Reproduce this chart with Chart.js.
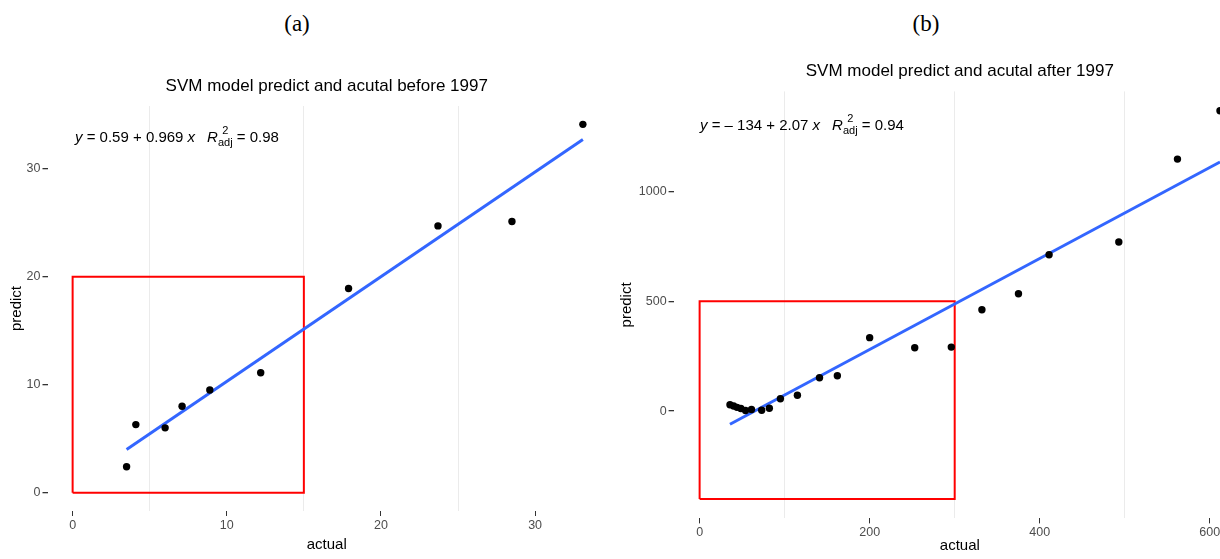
<!DOCTYPE html>
<html><head><meta charset="utf-8">
<script src="https://cdn.jsdelivr.net/npm/chart.js@4.4.0/dist/chart.umd.min.js"></script>
<style>
html,body{margin:0;padding:0;background:#fff;overflow:hidden;}
#wrap{position:relative;width:1220px;height:559px;overflow:hidden;background:#fff;}
.lab{position:absolute;width:80px;text-align:center;font-family:'Liberation Serif','Times New Roman',serif;font-size:23px;line-height:23px;color:#000;}
canvas{position:absolute;top:0;}
</style></head><body>
<div id="wrap">
<div class="lab" style="left:257px;top:12px">(a)</div>
<div class="lab" style="left:886px;top:12px">(b)</div>
<canvas id="c1" width="610" height="559" style="left:0"></canvas>
<canvas id="c2" width="640" height="559" style="left:610px"></canvas>
</div>
<script>
// ---- Panel (a): before 1997 ----
const leftActual  = [3.5, 4.1, 6.0, 7.1, 8.9, 12.2, 17.9, 23.7, 28.5, 33.1];
const leftPredict = [2.4, 6.3, 6.0, 8.0, 9.5, 11.1, 18.9, 24.7, 25.1, 34.1];
const leftFitX = [3.5, 33.1];
const leftFitY = [4.0, 32.7];
const leftBoxX = [0, 15, 15, 0, 0];
const leftBoxY = [0, 0, 20, 20, 0];
const leftXTicks = [0, 10, 20, 30];
const leftXGrid  = [5, 15, 25];
const leftYTicks = [0, 10, 20, 30];
const leftTitle = 'SVM model predict and acutal before 1997';
const leftEq = {y: ' = 0.59 + 0.969 ', r2: ' = 0.98'};

// ---- Panel (b): after 1997 ----
const rightActual  = [35.7, 40, 44, 48.5, 54, 61, 73, 82, 95, 115, 141, 162, 200, 253, 296, 332, 375, 411, 493, 562, 612];
const rightPredict = [29, 23, 17, 12, 3, 7, 4, 13, 56, 72, 152, 161, 334, 288, 291, 461, 534, 711, 769, 1146, 1366];
const rightFitX = [35.7, 612];
const rightFitY = [-60, 1133];
const rightBoxX = [0, 300, 300, 0, 0];
const rightBoxY = [-400, -400, 500, 500, -400];
const rightXTicks = [0, 200, 400, 600];
const rightXGrid  = [100, 300, 500];
const rightYTicks = [0, 500, 1000];
const rightTitle = 'SVM model predict and acutal after 1997';
const rightEq = {y: ' = \u2013 134 + 2.07 ', r2: ' = 0.94'};

const FONT = "'Liberation Sans', Arial, Helvetica, sans-serif";

function zip(xs, ys){ return xs.map((x,i)=>({x:x, y:ys[i]})); }

function drawEq(ctx, x, yMid, eq){
  const base = yMid + 5;
  ctx.save();
  ctx.fillStyle = '#000';
  ctx.textBaseline = 'alphabetic';
  ctx.textAlign = 'left';
  const main = '15px ' + FONT, ital = 'italic 15px ' + FONT, small = '11px ' + FONT;
  let cx = x;
  function put(t, f, dy){ ctx.font = f; ctx.fillText(t, cx, base + (dy||0)); return ctx.measureText(t).width; }
  cx += put('y', ital);
  cx += put(eq.y, main);
  cx += put('x', ital);
  cx += 12;
  cx += put('R', ital);
  ctx.font = small;
  const w2 = ctx.measureText('2').width, wa = ctx.measureText('adj').width;
  ctx.fillText('2', cx + (wa - w2)/2, base - 8);
  ctx.fillText('adj', cx, base + 4);
  cx += wa;
  put(eq.r2, main);
  ctx.restore();
}

const eqPlugin = {
  id: 'eqText',
  afterDraw(chart, args, opts){ drawEq(chart.ctx, opts.x, opts.y, opts.eq); }
};

function makePanel(id, p){
  const allX = p.xTicks.concat(p.xGrid).sort((a,b)=>a-b);
  return new Chart(document.getElementById(id), {
    type: 'scatter',
    data: {
      datasets: [
        {data: zip(p.actual, p.predict), pointRadius: 3.7, pointBackgroundColor: '#000', pointBorderWidth: 0, order: 0},
        {data: zip(p.fitX, p.fitY), showLine: true, pointRadius: 0, borderColor: '#3366FF', borderWidth: 3, order: 1},
        {data: zip(p.boxX, p.boxY), showLine: true, pointRadius: 0, borderColor: '#FF0000', borderWidth: 2, tension: 0, order: 2}
      ]
    },
    plugins: [eqPlugin],
    options: {
      responsive: false,
      animation: false,
      events: [],
      layout: {padding: {left: 0, right: p.padRight, top: 0, bottom: 0}},
      plugins: {
        legend: {display: false},
        tooltip: {enabled: false},
        title: {display: true, text: p.title, fullSize: false, color: '#000',
                font: {family: FONT, size: 17, weight: 'normal', lineHeight: 1.2},
                padding: {top: p.titleTop, bottom: p.titleBottom}},
        eqText: {x: p.eqX, y: p.eqY, eq: p.eq}
      },
      scales: {
        x: {
          type: 'linear', min: p.xMin, max: p.xMax,
          afterBuildTicks: s => { s.ticks = allX.map(v => ({value: v})); },
          afterFit: s => { s.height = p.xAxisHeight; },
          ticks: {autoSkip: false, maxRotation: 0, padding: 2, color: '#4d4d4d',
                  font: {family: FONT, size: 12.5},
                  callback: v => p.xTicks.includes(v) ? String(v) : ''},
          grid: {drawTicks: true, tickLength: 5, lineWidth: 1,
                 color: c => (c.tick && p.xGrid.includes(c.tick.value)) ? '#ebebeb' : 'rgba(0,0,0,0)',
                 tickColor: c => (c.tick && p.xTicks.includes(c.tick.value)) ? '#333333' : 'rgba(0,0,0,0)'},
          border: {display: false},
          title: {display: true, text: 'actual', color: '#000', font: {family: FONT, size: 15}, padding: {top: 0, bottom: p.xTitlePad}}
        },
        y: {
          type: 'linear', min: p.yMin, max: p.yMax,
          afterBuildTicks: s => { s.ticks = p.yTicks.map(v => ({value: v})); },
          afterFit: s => { s.width = p.yAxisWidth; },
          ticks: {padding: 2, color: '#4d4d4d', font: {family: FONT, size: 12.5},
                  callback: v => String(v)},
          grid: {drawOnChartArea: false, drawTicks: true, tickLength: 5, lineWidth: 1.3, color: '#333333', tickColor: '#333333'},
          border: {display: false},
          title: {display: true, text: 'predict', color: '#000', font: {family: FONT, size: 15}, padding: {top: 8, bottom: 0}}
        }
      }
    }
  });
}

makePanel('c1', {
  actual: leftActual, predict: leftPredict, fitX: leftFitX, fitY: leftFitY, boxX: leftBoxX, boxY: leftBoxY,
  xTicks: leftXTicks, xGrid: leftXGrid, yTicks: leftYTicks, title: leftTitle, eq: leftEq,
  xMin: -1.63, xMax: 34.6, yMin: -1.7, yMax: 35.8,
  padRight: 1, yAxisWidth: 47.5, xAxisHeight: 48, xTitlePad: 5,
  titleTop: 75.8, titleBottom: 9.8, eqX: 75, eqY: 136.7
});

makePanel('c2', {
  actual: rightActual, predict: rightPredict, fitX: rightFitX, fitY: rightFitY, boxX: rightBoxX, boxY: rightBoxY,
  xTicks: rightXTicks, xGrid: rightXGrid, yTicks: rightYTicks, title: rightTitle, eq: rightEq,
  xMin: -30.6, xMax: 642.6, yMin: -488, yMax: 1454,
  padRight: 3, yAxisWidth: 63.6, xAxisHeight: 40.6, xTitlePad: 4,
  titleTop: 61.5, titleBottom: 9.5, eqX: 90, eqY: 125
});
</script>
</body></html>
